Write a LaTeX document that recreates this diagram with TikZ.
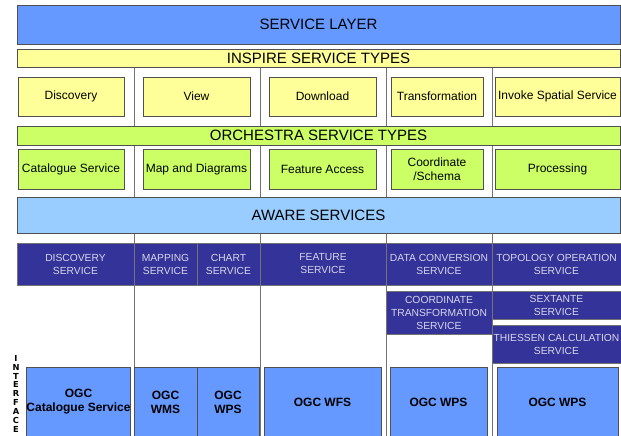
\documentclass[tikz,border=0pt]{standalone}
\usepackage{fontspec}
\setmainfont{Liberation Sans}
\newfontfamily\heavyfont{DejaVu Sans}
\usepackage{tikz}
\definecolor{layerblue}{RGB}{102,153,255}
\definecolor{inspireyellow}{RGB}{255,255,153}
\definecolor{orchestragreen}{RGB}{204,255,102}
\definecolor{awareblue}{RGB}{153,204,255}
\definecolor{darkblue}{RGB}{51,51,153}
\definecolor{darktext}{RGB}{215,215,235}
\definecolor{bordergray}{RGB}{80,80,80}
\tikzstyle{bar}=[rectangle, draw=bordergray, line width=0.8pt, inner sep=0pt, font=\fontsize{15}{18}\selectfont]
\tikzstyle{typebox}=[rectangle, draw=bordergray, line width=0.8pt, inner sep=0pt, align=center, minimum height=39pt, font=\fontsize{12}{14}\selectfont]
\tikzstyle{awarebox}=[rectangle, draw=black!55, fill=darkblue, text=darktext, line width=0.6pt, inner sep=0pt, align=center, font=\fontsize{10.3}{13}\selectfont]
\tikzstyle{ogcbox}=[rectangle, draw=bordergray, fill=layerblue, line width=0.8pt, inner sep=0pt, align=center, minimum height=70pt, font=\fontsize{12}{14}\selectfont\bfseries]
\tikzstyle{sep}=[draw=black!55, line width=0.8pt]

\begin{document}
\begin{tikzpicture}[x=1pt, y=-1pt]
                    \useasboundingbox (0,0) rectangle (621,436);
                    % column separators
                    \foreach \c in {134, 260, 386, 492} {
                        \coordinate (t\c) at (\c, 67);
                        \coordinate (b\c) at (\c, 436);
                        \draw[sep] (t\c) -- (b\c);
                    }
                    \node[bar, fill=layerblue, minimum width=603pt, minimum height=39pt] (layer) at (318.5, 24.5) {SERVICE LAYER};
                    \node[bar, fill=inspireyellow, minimum width=603pt, minimum height=18pt] (inspire) at (318.5, 58) {INSPIRE SERVICE TYPES};
                    \node[typebox, fill=inspireyellow, minimum width=106pt] (idisc) at (71,    96.5) {Discovery};
                    \node[typebox, fill=inspireyellow, minimum width=107pt] (iview) at (196.5, 96.5) {View};
                    \node[typebox, fill=inspireyellow, minimum width=107pt] (idown) at (322.5, 96.5) {Download};
                    \node[typebox, fill=inspireyellow, minimum width=92pt]  (itran) at (437,   96.5) {Transformation};
                    \node[typebox, fill=inspireyellow, minimum width=125pt] (iinvk) at (557.5, 96.5) {Invoke Spatial Service};
                    \node[bar, fill=orchestragreen, minimum width=603pt, minimum height=19pt] (orchestra) at (318.5, 135.5) {ORCHESTRA SERVICE TYPES};
                    \node[typebox, fill=orchestragreen, minimum width=106pt, minimum height=40pt] (ocat)  at (71,    169) {Catalogue Service};
                    \node[typebox, fill=orchestragreen, minimum width=107pt, minimum height=40pt] (omap)  at (196.5, 169) {Map and Diagrams};
                    \node[typebox, fill=orchestragreen, minimum width=107pt, minimum height=40pt] (ofeat) at (322.5, 169) {Feature Access};
                    \node[typebox, fill=orchestragreen, minimum width=92pt,  minimum height=40pt] (ocoord) at (437,  169) {Coordinate\\/Schema};
                    \node[typebox, fill=orchestragreen, minimum width=125pt, minimum height=40pt] (oproc) at (557.5, 169) {Processing};
                    \node[bar, fill=awareblue, minimum width=603pt, minimum height=36pt] (aware) at (318.5, 215) {AWARE SERVICES};
                    \node[awarebox, minimum width=117pt, minimum height=42pt] (adisc) at (75.5,  264) {DISCOVERY\\SERVICE};
                    \node[awarebox, minimum width=63pt,  minimum height=42pt] (amap)  at (165.5, 264) {MAPPING\\SERVICE};
                    \node[awarebox, minimum width=63pt,  minimum height=42pt] (achart) at (228.5, 264) {CHART\\SERVICE};
                    \node[awarebox, minimum width=126pt, minimum height=42pt] (afeat) at (323,   264) {FEATURE\\SERVICE};
                    \node[awarebox, minimum width=106pt, minimum height=42pt] (aconv) at (439,   264) {DATA CONVERSION\\SERVICE};
                    \node[awarebox, minimum width=129pt, minimum height=42pt] (atopo) at (556.5, 264) {TOPOLOGY OPERATION\\SERVICE};
                    \node[awarebox, minimum width=106pt, minimum height=43pt] (acoord) at (439,  312.5) {COORDINATE\\TRANSFORMATION\\SERVICE};
                    \node[awarebox, minimum width=129pt, minimum height=28pt] (asext) at (556.5, 305) {SEXTANTE\\SERVICE};
                    \node[awarebox, minimum width=129pt, minimum height=38pt] (athies) at (556.5, 344) {THIESSEN CALCULATION\\SERVICE};
                    \node[ogcbox, minimum width=103pt] (gcat)  at (78.5,  402) {OGC\\Catalogue Service};
                    \node[ogcbox, minimum width=63pt]  (gwms)  at (165.5, 402) {OGC\\WMS};
                    \node[ogcbox, minimum width=62pt]  (gwps)  at (228,   402) {OGC\\WPS};
                    \node[ogcbox, minimum width=117pt] (gwfs)  at (322.5, 402) {OGC WFS};
                    \node[ogcbox, minimum width=97pt]  (gwps2) at (438.5, 402) {OGC WPS};
                    \node[ogcbox, minimum width=121pt] (gwps3) at (557.5, 402) {OGC WPS};
                    \node[anchor=north, inner sep=0pt, align=center, font=\fontsize{8.3}{8.9}\selectfont\heavyfont\bfseries] (iface) at (16, 355) {I\\N\\T\\E\\R\\F\\A\\C\\E};
                \end{tikzpicture}
\end{document}
